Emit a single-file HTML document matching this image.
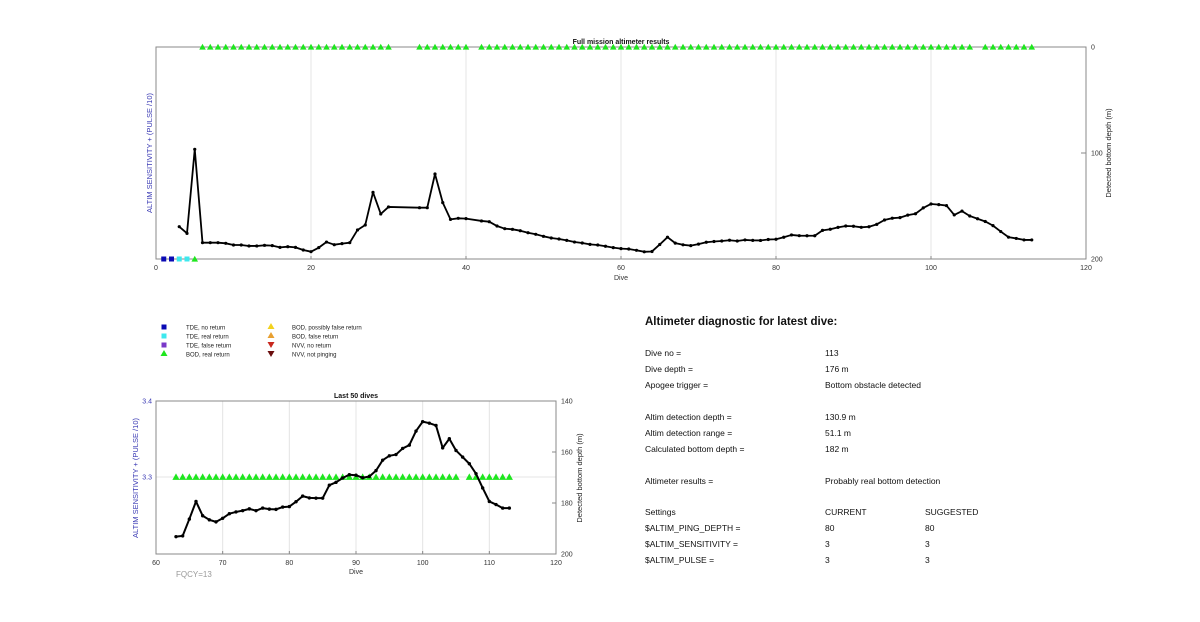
<!DOCTYPE html>
<html><head><meta charset="utf-8"><style>
html,body{margin:0;padding:0;background:#fff;}
svg{display:block;font-family:"Liberation Sans",Arial,sans-serif;}
</style></head><body>
<svg id="svg" width="1200" height="622" viewBox="0 0 1200 622" xmlns="http://www.w3.org/2000/svg">
<g id="top"></g>
<g id="bot"></g>
<g font-size="6" fill="#222">
  <rect x="161.5" y="324.5" width="5" height="5" fill="#0a0ab4"/>
  <text x="186" y="329.5">TDE, no return</text>
  <rect x="161.5" y="333.5" width="5" height="5" fill="#3ee8ee"/>
  <text x="186" y="338.5">TDE, real return</text>
  <rect x="161.5" y="342.5" width="5" height="5" fill="#7a38c8"/>
  <text x="186" y="347.5">TDE, false return</text>
  <polygon points="164,350 167.5,356 160.5,356" fill="#1ee61e"/>
  <text x="186" y="356.5">BOD, real return</text>
  <polygon points="271,323 274.5,329 267.5,329" fill="#f2d21e"/>
  <text x="292" y="329.5">BOD, possibly false return</text>
  <polygon points="271,332 274.5,338 267.5,338" fill="#e8a030"/>
  <text x="292" y="338.5">BOD, false return</text>
  <polygon points="267.5,342 274.5,342 271,348" fill="#c8281e"/>
  <text x="292" y="347.5">NVV, no return</text>
  <polygon points="267.5,351 274.5,351 271,357" fill="#6a0e0e"/>
  <text x="292" y="356.5">NVV, not pinging</text>
</g>
<g font-size="8.5" fill="#111">
  <text x="645" y="325" font-size="11.5" font-weight="bold">Altimeter diagnostic for latest dive:</text>
  <text x="645" y="356">Dive no =</text>
  <text x="825" y="356">113</text>
  <text x="645" y="372">Dive depth =</text>
  <text x="825" y="372">176 m</text>
  <text x="645" y="388">Apogee trigger =</text>
  <text x="825" y="388">Bottom obstacle detected</text>
  <text x="645" y="420">Altim detection depth =</text>
  <text x="825" y="420">130.9 m</text>
  <text x="645" y="436">Altim detection range =</text>
  <text x="825" y="436">51.1 m</text>
  <text x="645" y="452">Calculated bottom depth =</text>
  <text x="825" y="452">182 m</text>
  <text x="645" y="484">Altimeter results =</text>
  <text x="825" y="484">Probably real bottom detection</text>
  <text x="645" y="515">Settings</text>
  <text x="825" y="515">CURRENT</text>
  <text x="925" y="515">SUGGESTED</text>
  <text x="645" y="531">$ALTIM_PING_DEPTH =</text>
  <text x="825" y="531">80</text>
  <text x="925" y="531">80</text>
  <text x="645" y="547">$ALTIM_SENSITIVITY =</text>
  <text x="825" y="547">3</text>
  <text x="925" y="547">3</text>
  <text x="645" y="563">$ALTIM_PULSE =</text>
  <text x="825" y="563">3</text>
  <text x="925" y="563">3</text>
</g>
</svg>
<script>
const dives = [3,4,5,6,7,8,9,10,11,12,13,14,15,16,17,18,19,20,21,22,23,24,25,26,27,28,29,30,34,35,36,37,38,39,40,42,43,44,45,46,47,48,49,50,51,52,53,54,55,56,57,58,59,60,61,62,63,64,65,66,67,68,69,70,71,72,73,74,75,76,77,78,79,80,81,82,83,84,85,86,87,88,89,90,91,92,93,94,95,96,97,98,99,100,101,102,103,104,105,106,107,108,109,110,111,112,113];
const depths = [169.5,175.8,96.5,184.6,184.6,184.6,185.2,186.8,186.8,187.7,187.7,187.1,187.4,189,188.4,189,191.5,193.1,189.3,184,186.5,185.5,184.6,172.6,167.9,137.1,157.5,150.9,151.6,151.6,119.8,146.8,162.6,161.6,161.9,164.1,164.8,168.9,171.4,172,173.3,175.2,176.7,178.6,180.2,181.1,182.4,184,184.9,186.2,186.8,188,189.3,190.2,190.6,191.8,193.2,192.9,186.3,179.4,185,186.6,187.4,186,184.2,183.5,183,182.3,183,182,182.4,182.5,181.6,181.4,179.5,177.3,178,178.1,178.1,173,171.9,170.2,168.9,169.1,170.1,169.6,167.3,163.2,161.5,161,158.6,157.3,151.8,148.1,148.7,149.6,158.4,154.8,159.4,162,164.6,168.5,174.1,179.4,180.6,182,182];
const bodRealDives = [6,7,8,9,10,11,12,13,14,15,16,17,18,19,20,21,22,23,24,25,26,27,28,29,30,34,35,36,37,38,39,40,42,43,44,45,46,47,48,49,50,51,52,53,54,55,56,57,58,59,60,61,62,63,64,65,66,67,68,69,70,71,72,73,74,75,76,77,78,79,80,81,82,83,84,85,86,87,88,89,90,91,92,93,94,95,96,97,98,99,100,101,102,103,104,105,107,108,109,110,111,112,113];
const tdeNoReturnDives = [1,2];
const tdeRealReturnDives = [3,4];
const bottomBodDives = [5];
const topXTicks = [0,20,40,60,80,100,120];
const topYTicks = [0,100,200];
const botXTicks = [60,70,80,90,100,110,120];
const botYTicks = [140,160,180,200];
const botLeftTicks = [3.3,3.4];
const sensitivity = 3.3;

const NS="http://www.w3.org/2000/svg";
function mk(parent,tag,attrs,text){const e=document.createElementNS(NS,tag);for(const k in attrs)e.setAttribute(k,attrs[k]);if(text!==undefined)e.textContent=text;parent.appendChild(e);return e;}
function tri(g,x,y,s){return mk(g,'polygon',{points:`${x},${y-s} ${x+s},${y+s*0.8} ${x-s},${y+s*0.8}`,fill:'#1ee61e'});}

// ---------- top chart ----------
(function(){
const g=document.getElementById('top');
const L=156,R=1086,T=47,B=259;
const xs=d=>L+(d-0)/(120-0)*(R-L);
const ys=v=>T+(v-0)/(200-0)*(B-T);
topXTicks.forEach(t=>{
  if(t>0&&t<120){const gl=mk(g,'line',{x1:xs(t),x2:xs(t),y1:T,y2:B,stroke:'#e4e4e4','stroke-width':1});
  
  }
  const tl=mk(g,'text',{x:xs(t),y:B+11,'font-size':7,'text-anchor':'middle',fill:'#333'},String(t));
  
  
  mk(g,'line',{x1:xs(t),x2:xs(t),y1:B,y2:B-3,stroke:'#888'});
});
const box=mk(g,'rect',{x:L,y:T,width:R-L,height:B-T,fill:'none',stroke:'#8a8a8a','stroke-width':1});


topYTicks.forEach(t=>{
  mk(g,'line',{x1:R,x2:R-5,y1:ys(t),y2:ys(t),stroke:'#888'});
  const tl=mk(g,'text',{x:R+5,y:ys(t)+2.5,'font-size':7,fill:'#333'},String(t));
  
  
});
const xt=mk(g,'text',{x:621,y:280,'font-size':7,'text-anchor':'middle',fill:'#333'},'Dive');


const yl=mk(g,'text',{transform:'translate(152,153) rotate(-90)','font-size':7.5,'text-anchor':'middle',fill:'#3a3ab4'},'ALTIM SENSITIVITY + (PULSE /10)');


const yr=mk(g,'text',{transform:'translate(1111,153) rotate(-90)','font-size':7.5,'text-anchor':'middle',fill:'#222'},'Detected bottom depth (m)');


const path=mk(g,'polyline',{points:dives.map((d,i)=>xs(d)+','+ys(depths[i])).join(' '),fill:'none',stroke:'#000','stroke-width':1.8,'stroke-linejoin':'round'});


dives.forEach((d,i)=>{const c=mk(g,'circle',{cx:xs(d),cy:ys(depths[i]),r:1.6,fill:'#000'});
  
  });
bodRealDives.forEach(d=>{const t=tri(g,xs(d),ys(0),3.3);
  
  });
tdeNoReturnDives.forEach(d=>{const r=mk(g,'rect',{x:xs(d)-2.5,y:B-2.5,width:5,height:5,fill:'#0a0ab4'});
  
  });
tdeRealReturnDives.forEach(d=>{const r=mk(g,'rect',{x:xs(d)-2.5,y:B-2.5,width:5,height:5,fill:'#3ee8ee'});
  
  });
bottomBodDives.forEach(d=>{const t=tri(g,xs(d),B,3.3);
  
  });
const ti=mk(g,'text',{x:621,y:44,'font-size':7,'font-weight':'bold','text-anchor':'middle',fill:'#111'},'Full mission altimeter results');


})();

// ---------- bottom chart ----------
(function(){
const g=document.getElementById('bot');
const L=156,R=556,T=401,B=554;
const xs=d=>L+(d-60)/(120-60)*(R-L);
const ys=v=>T+(v-140)/(200-140)*(B-T);
const ysL=v=>T+(3.4-v)/0.1*(477-T);
botXTicks.forEach(t=>{
  if(t>60&&t<120){const gl=mk(g,'line',{x1:xs(t),x2:xs(t),y1:T,y2:B,stroke:'#e4e4e4'});
  
  }
  mk(g,'line',{x1:xs(t),x2:xs(t),y1:B,y2:B-3,stroke:'#888'});
  const tl=mk(g,'text',{x:xs(t),y:B+11,'font-size':7,'text-anchor':'middle',fill:'#333'},String(t));
  
  
});
botLeftTicks.forEach(t=>{
  const gl=mk(g,'line',{x1:L,x2:R,y1:ysL(t),y2:ysL(t),stroke:'#e4e4e4'});
  
  
  const tl=mk(g,'text',{x:L-4,y:ysL(t)+2.5,'font-size':7,'text-anchor':'end',fill:'#3a3ab4'},t.toFixed(1));
  
  
});
const box=mk(g,'rect',{x:L,y:T,width:R-L,height:B-T,fill:'none',stroke:'#8a8a8a'});


botYTicks.forEach(t=>{
  mk(g,'line',{x1:R,x2:R-4,y1:ys(t),y2:ys(t),stroke:'#888'});
  const tl=mk(g,'text',{x:R+5,y:ys(t)+2.5,'font-size':7,fill:'#333'},String(t));
  
  
});
const xt=mk(g,'text',{x:356,y:574,'font-size':7,'text-anchor':'middle',fill:'#333'},'Dive');


const yl=mk(g,'text',{transform:'translate(138,478) rotate(-90)','font-size':7.5,'text-anchor':'middle',fill:'#3a3ab4'},'ALTIM SENSITIVITY + (PULSE /10)');


const yr=mk(g,'text',{transform:'translate(582,478) rotate(-90)','font-size':7.5,'text-anchor':'middle',fill:'#222'},'Detected bottom depth (m)');


const sel=dives.map((d,i)=>[d,depths[i]]).filter(p=>p[0]>=63);
bodRealDives.filter(d=>d>=63).forEach(d=>{const t=tri(g,xs(d),ysL(sensitivity),3.6);
  
  });
const path=mk(g,'polyline',{points:sel.map(p=>xs(p[0])+','+ys(p[1])).join(' '),fill:'none',stroke:'#000','stroke-width':2,'stroke-linejoin':'round'});


sel.forEach(p=>{const c=mk(g,'circle',{cx:xs(p[0]),cy:ys(p[1]),r:1.7,fill:'#000'});
  
  });
const ti=mk(g,'text',{x:356,y:398,'font-size':7,'font-weight':'bold','text-anchor':'middle',fill:'#111'},'Last 50 dives');


const fq=mk(g,'text',{x:176,y:577,'font-size':8,fill:'#999'},'FQCY=13');


})();
</script>
</body></html>
